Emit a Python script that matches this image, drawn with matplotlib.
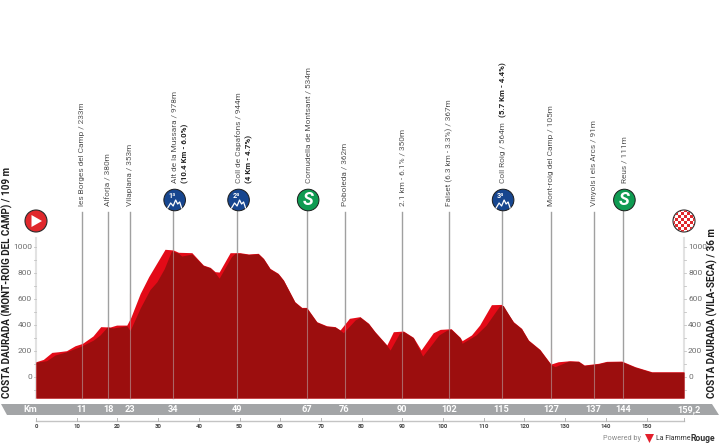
import matplotlib
matplotlib.use("Agg")
import matplotlib.pyplot as plt
from matplotlib.patches import Circle, Polygon, Rectangle

SANS = "Roboto"

# profile: upper outline (bright) and inner body (dark)
top_km = [0, 1.8, 3.9, 5.5, 7.5, 9.6, 11.4, 14, 15.9, 18.2, 19.8, 22.3, 23.3, 25.6, 27.7, 31.7, 33.7, 35, 38.3,
          41.1, 42.8, 44, 45, 47.7, 50.1, 52.2, 54.6, 55.9, 57.5, 59.5, 60.8, 63.6, 65.3, 66.5, 69, 71.4, 73.5,
          74.7, 77, 79.6, 81.7, 83.3, 86.2, 87.8, 90.3, 92.7, 94.6, 97.6, 99.3, 102, 104.2, 104.7, 107, 109,
          111.9, 114.4, 117.3, 119.3, 121, 123.8, 126.5, 128.3, 131.2, 133.3, 134.7, 138.2, 140.2, 143.9,
          147.2, 151.3, 155.8, 159.2]
top_m = [115, 133, 187, 192, 200, 238, 256, 313, 385, 382, 397, 397, 456, 640, 770, 980, 975, 957, 954,
         859, 841, 808, 805, 954, 954, 944, 949, 910, 833, 795, 744, 577, 533, 533, 423, 392, 385,
         359, 449, 462, 411, 346, 244, 346, 351, 303, 205, 338, 364, 369, 303, 277, 321, 397,
         554, 556, 423, 372, 282, 210, 97, 115, 123, 120, 90, 103, 118, 120,
         77, 38, 38, 38]
dark_km = [0, 2.6, 4.7, 7.5, 11.2, 14.1, 15.7, 17.5, 19, 22.3, 23.1, 25.6, 28, 29.7, 31.5, 33.3, 35, 35.8, 38.3,
           41.1, 42.8, 44, 45, 48, 48.9, 50.1, 52.2, 54.6, 55.9, 57.5, 59.5, 60.8, 63.6, 65.3, 66.5, 69, 71.4,
           73.5, 74.7, 75.5, 78.4, 79.6, 81.7, 83.3, 86.2, 87, 89.3, 90.3, 92.7, 95, 99, 101, 102, 104.2, 104.7,
           108.1, 110.6, 113.9, 114.8, 117.3, 119.3, 121, 123.8, 126.5, 127.5, 130.8, 133.3, 134.7, 138.2,
           140.2, 143.9, 147.2, 151.3, 155.8, 159.2]
dark_m = [112, 123, 167, 192, 236, 282, 320, 382, 375, 392, 354, 528, 670, 730, 830, 969, 950, 928, 944,
          855, 837, 800, 758, 923, 949, 950, 940, 945, 906, 829, 791, 740, 573, 529, 529, 419, 388,
          381, 359, 338, 436, 458, 407, 342, 240, 205, 334, 347, 299, 159, 321, 359, 365, 299, 257,
          321, 397, 544, 548, 419, 368, 278, 206, 93, 77, 119, 116, 86, 99, 114, 116, 73, 34, 34, 34]

y_ticks = [0, 200, 400, 600, 800, 1000]
y_minor = [-100, 0, 100, 200, 300, 400, 500, 600, 700, 800, 900, 1000]
km_ticks = [0, 10, 20, 30, 40, 50, 60, 70, 80, 90, 100, 110, 120, 130, 140, 150]
line_km = [11.3, 17.7, 23.2, 33.7, 49.4, 66.5, 75.8, 90, 101.5, 114.4, 126.5, 137, 144.2]
band_labels = ["11", "18", "23", "34", "49", "67", "76", "90", "102", "115", "127", "137", "144"]
place_labels = ["les Borges del Camp / 233m", "Alforja / 380m", "Vilaplana / 353m", "Alt de la Mussara / 978m",
                "Coll de Capafons / 944m", "Cornudella de Montsant / 534m", "Poboleda / 362m",
                "2.1 km - 6.1% / 350m", "Falset (6.3 km - 3.3%) / 367m", "Coll Roig / 564m",
                "Mont-roig del Camp / 105m", "Vinyols i els Arcs / 91m", "Reus / 111m"]
place_bold = ["", "", "", "(10.4 Km - 6.0%)", "(4 Km - 4.7%)", "", "", "", "", "(5.7 Km - 4.4%)", "", "", ""]
place_icon = ["", "", "", "1ª", "2ª", "S", "", "", "", "3ª", "", "", "S"]

W, H = 720, 447
X0, SX, Y0, SY = 36.0, 4.07, 376.7, 0.13
fig = plt.figure(figsize=(W / 100, H / 100), dpi=100)
ax = fig.add_axes([0, 0, 1, 1])
ax.set_xlim(-X0 / SX, (W - X0) / SX)
ax.set_ylim((Y0 - H) / SY, Y0 / SY)
ax.axis("off")
ov = fig.add_axes([0, 0, 1, 1], facecolor="none")
ov.set_xlim(0, W)
ov.set_ylim(H, 0)
ov.axis("off")
BASE = (Y0 - 398) / SY


def px(km):
    return X0 + SX * km


ax.fill_between(top_km, BASE, top_m, color="#e30a17", lw=0, zorder=2)
ax.fill_between(dark_km, BASE, dark_m, color="#9c0e0e", lw=0, zorder=3)

# vertical place lines
for km, ic in zip(line_km, place_icon):
    top = (Y0 - (200 if ic else 212)) / SY
    ax.plot([km, km], [BASE, top], color="#a0a0a0", lw=1.0, zorder=1)
    ymax = max(m for k, m in zip(top_km, top_m) if abs(k - km) < 3)
    ax.plot([km, km], [BASE, ymax], color="#b8a0a0", lw=0.8, alpha=0.6, zorder=4)

# side elevation scales
for xa, side in ((0, -1), (159.2, 1)):
    ax.plot([xa, xa], [BASE, (Y0 - 238) / SY], color="#e2e2e2", lw=1.5, zorder=1)
    for v in y_minor:
        ax.plot([xa, xa + side * 0.6], [v, v], color="#c4c4c4", lw=0.6, zorder=1)
for v in y_ticks:
    ax.text(-1.0, v, str(v), ha="right", va="center", fontsize=6.0, color="#6e6e6e", family=SANS)
    ax.text(160.2, v, str(v), ha="left", va="center", fontsize=6.0, color="#6e6e6e", family=SANS)

# km band
ov.add_patch(Polygon([(1, 404), (712, 404), (719, 415), (7, 415)], color="#a3a5a7", lw=0, zorder=2))
ov.text(30, 409.7, "Km", color="white", fontsize=6.6, fontweight="bold", family=SANS, ha="center", va="center")
for km, t in zip(line_km, band_labels):
    ov.text(px(km), 409.7, t, color="white", fontsize=6.6, fontweight="bold", family=SANS, ha="center", va="center")
ov.text(689, 409.7, "159,2", color="white", fontsize=6.6, fontweight="bold", family=SANS, ha="center", va="center")

# km axis
ax.plot([0, 159.2], [(Y0 - 421) / SY] * 2, color="#c4c4c4", lw=1.0)
for k in km_ticks + [159.2]:
    ax.plot([k, k], [(Y0 - 421) / SY, (Y0 - 418) / SY], color="#b5b5b5", lw=0.7)
for k in km_ticks:
    ax.text(k, (Y0 - 427) / SY, str(k), fontsize=4.3, fontweight="bold", color="#444444", family=SANS,
            ha="center", va="center")


def mountain(cx, cy):
    xs = [-7, -4, -1.5, 1, 3, 5, 7]
    ys = [5, 0, 3, -3, 1, -1, 5]
    ov.plot([cx + x for x in xs], [cy + y for y in ys], color="white", lw=0.9, zorder=7)


# place labels and icons
for km, name, bold, ic in zip(line_km, place_labels, place_bold, place_icon):
    x = px(km)
    ytxt = 183 if ic else 206
    cx = x + 1.5 if ic else x
    if ic:
        col = "#0f9b52" if ic == "S" else "#17468f"
        ov.add_patch(Circle((cx, 200), 10.8, fc=col, ec="#1c1c1c", lw=0.7, zorder=6))
        if ic == "S":
            ov.text(cx, 200, "S", color="white", fontsize=13, fontweight="bold", style="italic",
                    family=SANS, ha="center", va="center", zorder=7)
        else:
            ov.text(cx - 2.5, 195.5, ic, color="white", fontsize=5.2, fontweight="bold", family=SANS,
                    ha="center", va="center", zorder=7)
            mountain(cx, 203)
    ov.text(cx if ic else x, ytxt, name, rotation=90, ha="center", va="bottom", fontsize=5.95,
            color="#555555", family=SANS)
    if bold:
        if name.startswith("Coll Roig"):
            ov.text(cx, 117, bold, rotation=90, ha="center", va="bottom", fontsize=5.7, fontweight="bold",
                    color="#222222", family=SANS)
        else:
            ov.text(cx + 10.5, ytxt, bold, rotation=90, ha="center", va="bottom", fontsize=5.7, fontweight="bold",
                    color="#222222", family=SANS)

# start & finish
ov.add_patch(Circle((36, 221), 11, fc="#e0282c", ec="#2a2a2a", lw=0.8, zorder=6))
ov.add_patch(Polygon([(31.5, 215), (31.5, 227), (42, 221)], color="white", lw=0, zorder=7))
ov.add_patch(Circle((684, 221), 11, fc="white", ec="#2a2a2a", lw=0.8, zorder=6))
for i in range(-4, 4):
    for j in range(-4, 4):
        if (i + j) % 2 == 0:
            r = Rectangle((684 + i * 3, 221 + j * 3), 3, 3, fc="#e0282c", lw=0, zorder=7)
            ov.add_patch(r)
            r.set_clip_path(Circle((684, 221), 10.5, transform=ov.transData))

# side titles
ov.text(7, 398, "COSTA DAURADA (MONT-ROIG DEL CAMP) / 109 m", rotation=90, ha="center", va="bottom",
        fontsize=7.1, fontweight="bold", color="#1e1e1e", family=SANS)
ov.text(712, 398, "COSTA DAURADA (VILA-SECA) / 36 m", rotation=90, ha="center", va="bottom",
        fontsize=7.1, fontweight="bold", color="#1e1e1e", family=SANS)

# credit
ov.text(603, 438.6, "Powered by", fontsize=5.2, color="#8a8a8a", family=SANS, ha="left", va="center")
ov.add_patch(Polygon([(645, 434), (654, 434), (649.5, 443)], color="#e3202c", lw=0))
ov.text(655.5, 438.6, "La Flamme", fontsize=5.0, color="#333333", family=SANS, ha="left", va="center")
ov.text(690.5, 438.6, "Rouge", fontsize=6.2, fontweight="bold", color="#333333", family=SANS, ha="left", va="center")

fig.savefig("out.png", dpi=100)
